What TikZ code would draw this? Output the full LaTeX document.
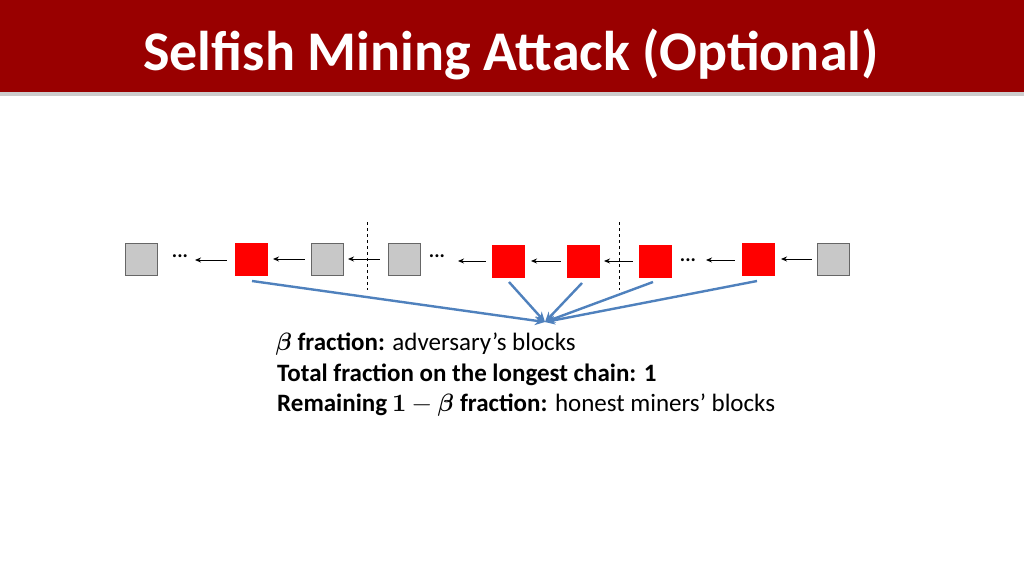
\documentclass[tikz,border=0pt]{standalone}
\usepackage{fontspec}
\setmainfont{Carlito}
\usepackage{unicode-math}
\usetikzlibrary{arrows.meta}
\definecolor{barred}{HTML}{990000}
\definecolor{gb}{HTML}{C8C8C8}
\definecolor{bl}{HTML}{4F81BD}
\begin{document}
\begin{tikzpicture}[x=1pt,y=-1pt,
 gblk/.style={draw=gray!80!black,fill=gb,minimum width=32pt,minimum height=32pt,inner sep=0pt},
 rblk/.style={draw=red,fill=red,minimum width=32pt,minimum height=32pt,inner sep=0pt},
 lar/.style={-{Stealth[length=6pt,width=5pt]},line width=0.9pt},
 barw/.style={-{Stealth[length=10pt,width=9pt]},line width=2.4pt,draw=bl},
 dsh/.style={dashed,line width=0.8pt},
 dots/.style={font=\bfseries\fontsize{20}{20}\selectfont,inner sep=0pt},
 txt/.style={anchor=west,inner sep=0pt,font=\fontsize{25}{28}\selectfont}]
\useasboundingbox (0,0) rectangle (1024,576);
\fill[white] (0,0) rectangle (1024,576);
\fill[gray!40] (0,92) rectangle (1024,96);
\fill[barred] (0,0) rectangle (1024,92);
\node[text=white,font=\bfseries\fontsize{56}{60}\selectfont] (title) at (511,54) {Selfish Mining Attack (Optional)};
\node[gblk] (g1) at (141,259) {};
\node[rblk] (r1) at (251,259) {};
\node[gblk] (g2) at (327,259) {};
\node[gblk] (g3) at (404,259) {};
\node[rblk] (r2) at (508,261) {};
\node[rblk] (r3) at (583,261) {};
\node[rblk] (r4) at (655,261) {};
\node[rblk] (r5) at (758,259) {};
\node[gblk] (g4) at (833,259) {};
\node[dots] (d1) at (180,256) {...};
\node[dots] (d2) at (437,256) {...};
\node[dots] (d3) at (688,260) {...};
\draw[lar] (r1.west)++(-8,1) -- (195,260);
\draw[lar] (g2.west)++(-6,0) -- (273,259);
\draw[lar] (g3.west)++(-8,0) -- (348,259);
\draw[lar] (r2.west)++(-6,0) -- (458,261);
\draw[lar] (r3.west)++(-6,0) -- (531,261);
\draw[lar] (r4.west)++(-6,0) -- (604,261);
\draw[lar] (r5.west)++(-7,1) -- (706,260);
\draw[lar] (g4.west)++(-5,0) -- (781,259);
\coordinate (hub) at (545,322);
\draw[dsh] (367,222) -- (367,290);
\draw[dsh] (619,222) -- (619,290);
\draw[barw] (252,281) -- (hub);
\draw[barw] (509,282) -- (hub);
\draw[barw] (582,283) -- (hub);
\draw[barw] (653,282) -- (hub);
\draw[barw] (757,281) -- (hub);
\node[txt] (t1) at (275,344) {$\symbfit{\beta}$ \textbf{fraction:} adversary’s blocks};
\node[txt] (t2) at (277,375) {\textbf{Total fraction on the longest chain: 1}};
\node[txt] (t3) at (277,405) {\textbf{Remaining} $\symbf{1}-\symbfit{\beta}$ \textbf{fraction:} honest miners’ blocks};
\end{tikzpicture}
\end{document}
